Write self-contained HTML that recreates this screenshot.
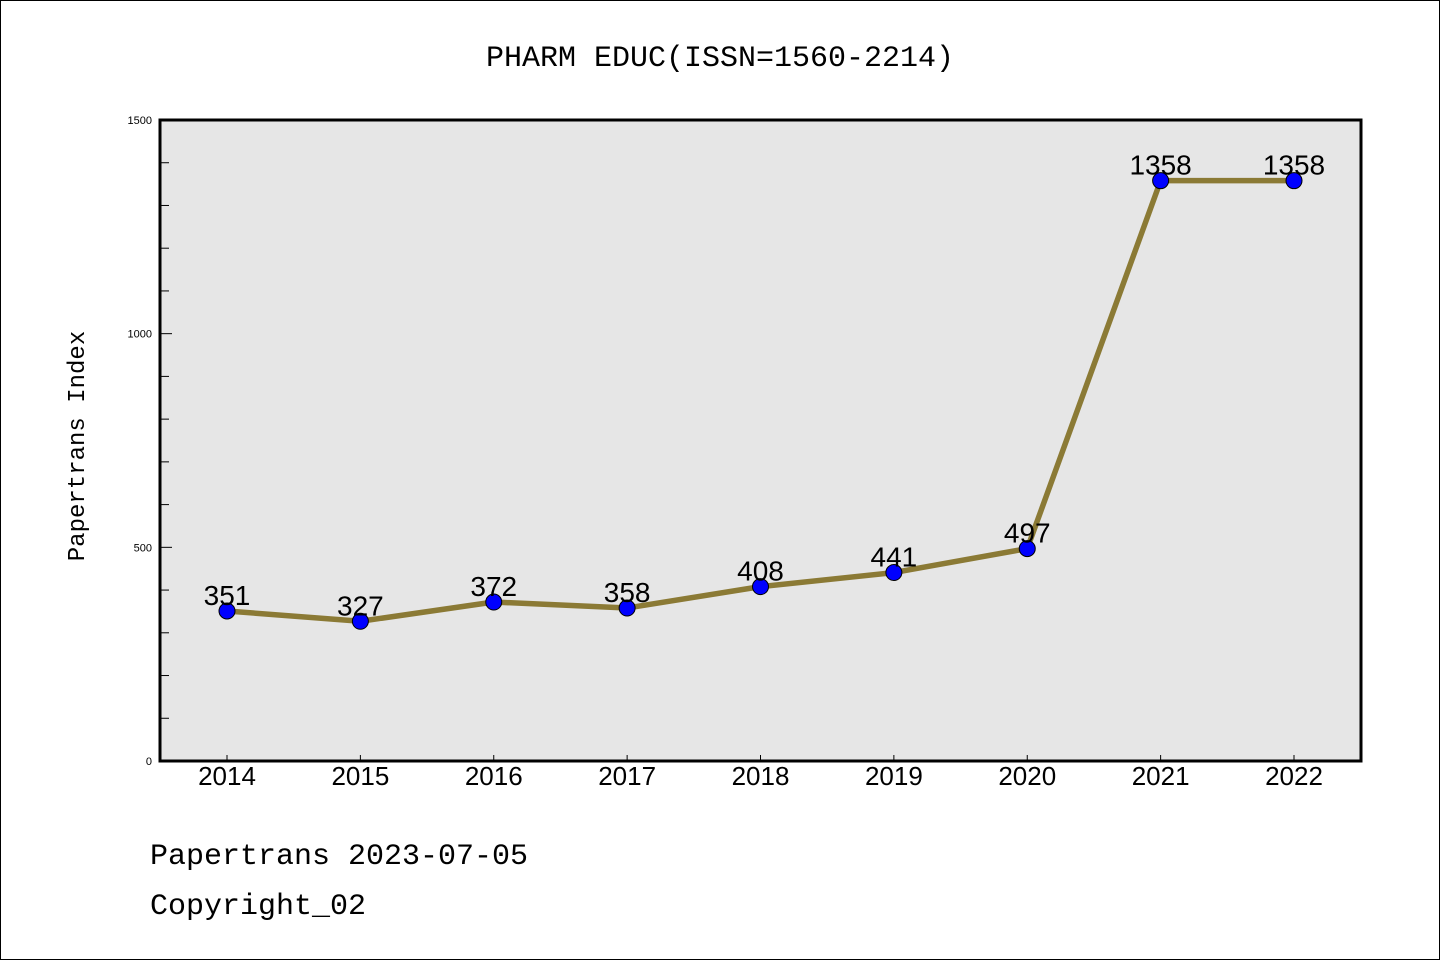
<!DOCTYPE html>
<html><head><meta charset="utf-8"><style>
body{margin:0;background:#fff}
svg{display:block}
</style></head><body>
<svg width="1440" height="960" xmlns="http://www.w3.org/2000/svg">
<rect x="0.5" y="0.5" width="1439" height="959" fill="#fff" stroke="#000" stroke-width="1"/>
<text x="720" y="66" text-anchor="middle" font-family="'WenQuanYi Zen Hei','Liberation Mono',monospace" font-size="30">PHARM EDUC(ISSN=1560-2214)</text>
<rect x="160" y="120" width="1201" height="641" fill="#e6e6e6"/>
<g id="yticks"></g>
<g id="xticks"></g>
<g id="series"></g>
<rect x="160" y="120" width="1201" height="641" fill="none" stroke="#000" stroke-width="3"/>
<text transform="translate(84,446) rotate(-90)" text-anchor="middle" font-family="'WenQuanYi Zen Hei','Liberation Mono',monospace" font-size="24">Papertrans Index</text>
<text x="150" y="864" font-family="'WenQuanYi Zen Hei','Liberation Mono',monospace" font-size="30">Papertrans 2023-07-05</text>
<text x="150" y="914" font-family="'WenQuanYi Zen Hei','Liberation Mono',monospace" font-size="30">Copyright_02</text>
</svg>
<script>
const categories=["2014","2015","2016","2017","2018","2019","2020","2021","2022"];
const values=[351,327,372,358,408,441,497,1358,1358];
const yTickLabels=["0","500","1000","1500"];
const NS="http://www.w3.org/2000/svg";
const x0=227,x1=1294,yb=761,yt=120,ymax=1500;
function xs(i){return x0+(x1-x0)*i/(categories.length-1);}
function ys(v){return yb-(yb-yt)*v/ymax;}
function mk(t,a){const e=document.createElementNS(NS,t);for(const k in a)e.setAttribute(k,a[k]);return e;}
const yg=document.getElementById('yticks');
for(let v=0;v<=ymax;v+=100){
  const major=v%500===0;
  const l=mk('line',{x1:160,x2:major?172:169,y1:ys(v),y2:ys(v),stroke:'#000','stroke-width':1});
  
  
  yg.appendChild(l);
}
yTickLabels.forEach(s=>{
  const t=mk('text',{x:152,y:ys(+s)+4,'text-anchor':'end','font-family':'Liberation Sans,sans-serif','font-size':11});
  t.textContent=s;
  
  
  yg.appendChild(t);
});
const xg=document.getElementById('xticks');
categories.forEach((c,i)=>{
  const l=mk('line',{x1:xs(i),x2:xs(i),y1:761,y2:755,stroke:'#000','stroke-width':1});
  
  
  xg.appendChild(l);
  const t=mk('text',{x:xs(i),y:785,'text-anchor':'middle','font-family':'Liberation Sans,sans-serif','font-size':26});
  t.textContent=c;
  
  
  xg.appendChild(t);
});
const sg=document.getElementById('series');
const pl=mk('polyline',{points:values.map((v,i)=>xs(i)+','+ys(v)).join(' '),fill:'none',stroke:'#8b7a35','stroke-width':5.5,'stroke-linejoin':'round'});


sg.appendChild(pl);
values.forEach((v,i)=>{
  const c=mk('circle',{cx:xs(i),cy:ys(v),r:8,fill:'#0000ff',stroke:'#000','stroke-width':1});
  
  
  sg.appendChild(c);
  const t=mk('text',{x:xs(i),y:ys(v)-6,'text-anchor':'middle','font-family':'Liberation Sans,sans-serif','font-size':28});
  t.textContent=v;
  
  
  sg.appendChild(t);
});
</script>
</body></html>
